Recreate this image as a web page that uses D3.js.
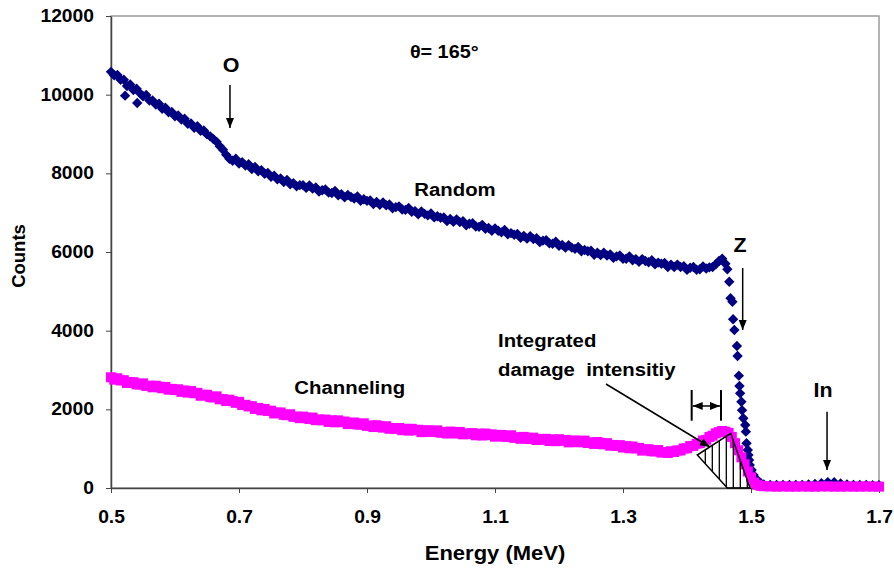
<!DOCTYPE html>
<html>
<head>
<meta charset="utf-8">
<script src="https://cdn.jsdelivr.net/npm/d3@7/dist/d3.min.js"></script>
<style>
	html, body { margin: 0; padding: 0; background: #fff; }
	svg text { font-family: Arial, "Liberation Sans", sans-serif; font-weight: bold; fill: #000; }
</style>
</head>
<body>
<div id="chart"></div>
<script>
/*
* RBS spectrum, random vs channeling
*/
// [energy MeV, counts]
var randomData = [
	[0.500,10580],[0.505,10490],[0.510,10500],[0.515,10380],[0.520,10380],[0.522,9975],[0.525,10220],[0.530,10260],
	[0.535,10120],[0.540,10150],[0.541,9790],[0.545,10040],[0.550,9960],[0.555,9990],[0.560,9850],[0.565,9850],
	[0.570,9750],[0.575,9770],[0.580,9640],[0.585,9670],[0.590,9550],[0.595,9560],[0.600,9450],[0.605,9470],
	[0.610,9370],[0.615,9390],[0.620,9260],[0.625,9270],[0.630,9160],[0.635,9200],[0.640,9080],[0.645,9090],
	[0.650,8990],[0.655,8940],[0.660,8870],[0.665,8800],[0.670,8690],[0.675,8600],[0.680,8470],[0.685,8370],
	[0.690,8320],[0.695,8370],[0.700,8250],[0.705,8280],[0.710,8200],[0.715,8230],[0.720,8110],[0.725,8160],
	[0.730,8050],[0.735,8080],[0.740,7990],[0.745,8010],[0.750,7910],[0.755,7940],[0.760,7850],[0.765,7870],
	[0.770,7780],[0.775,7830],[0.780,7720],[0.785,7750],[0.790,7670],[0.795,7700],[0.800,7700],[0.805,7630],
	[0.810,7690],[0.815,7610],[0.820,7640],[0.825,7540],[0.830,7570],[0.835,7590],[0.840,7510],[0.845,7500],
	[0.850,7550],[0.855,7440],[0.860,7470],[0.865,7390],[0.870,7450],[0.875,7400],[0.880,7360],[0.885,7410],
	[0.890,7300],[0.895,7340],[0.900,7300],[0.905,7310],[0.910,7220],[0.915,7270],[0.920,7200],[0.925,7260],
	[0.930,7190],[0.935,7210],[0.940,7110],[0.945,7140],[0.950,7160],[0.955,7080],[0.960,7070],[0.965,7120],
	[0.970,7020],[0.975,7040],[0.980,6960],[0.985,7030],[0.990,6970],[0.995,6930],[1.000,6980],[1.005,6880],
	[1.010,6910],[1.015,6870],[1.020,6880],[1.025,6790],[1.030,6840],[1.035,6770],[1.040,6830],[1.045,6760],
	[1.050,6780],[1.055,6680],[1.060,6720],[1.065,6730],[1.070,6650],[1.075,6640],[1.080,6690],[1.085,6590],
	[1.090,6610],[1.095,6540],[1.100,6600],[1.105,6540],[1.110,6500],[1.115,6560],[1.120,6450],[1.125,6480],
	[1.130,6440],[1.135,6460],[1.140,6360],[1.145,6410],[1.150,6340],[1.155,6400],[1.160,6330],[1.165,6350],
	[1.170,6250],[1.175,6290],[1.180,6300],[1.185,6220],[1.190,6210],[1.195,6260],[1.200,6160],[1.205,6180],
	[1.210,6110],[1.215,6170],[1.220,6110],[1.225,6080],[1.230,6130],[1.235,6020],[1.240,6050],[1.245,6020],
	[1.250,6030],[1.255,5930],[1.260,5980],[1.265,5920],[1.270,5980],[1.275,5910],[1.280,5940],[1.285,5850],
	[1.290,5890],[1.295,5910],[1.300,5830],[1.305,5830],[1.310,5890],[1.315,5790],[1.320,5820],[1.325,5750],
	[1.330,5820],[1.335,5770],[1.340,5740],[1.345,5790],[1.350,5690],[1.355,5730],[1.360,5700],[1.365,5720],
	[1.370,5620],[1.375,5680],[1.380,5620],[1.385,5680],[1.390,5620],[1.395,5640],[1.400,5550],[1.405,5600],
	[1.410,5620],[1.415,5550],[1.420,5560],[1.425,5630],[1.430,5580],[1.435,5610],[1.440,5620],[1.445,5690],
	[1.450,5770],[1.455,5830],[1.460,5700],[1.463,5560],[1.466,5245],[1.468,4823],[1.471,4737],[1.472,4289],
	[1.474,4017],[1.478,3610],[1.479,3356],[1.481,2856],[1.482,2593],[1.483,2406],[1.485,2194],[1.486,1975],
	[1.488,1772],[1.491,1602],[1.492,1432],[1.493,1137],[1.495,966],[1.496,839],[1.497,712],[1.498,585],
	[1.501,458],[1.504,330],[1.509,220],[1.515,130],[1.520,90],[1.530,80],[1.540,75],[1.550,80],
	[1.560,75],[1.570,80],[1.580,80],[1.590,90],[1.600,100],[1.610,125],[1.620,150],[1.630,145],
	[1.640,115],[1.650,90],[1.660,80],[1.670,75],[1.680,75],[1.690,70],[1.700,70]
];
var channelingData = [
	[0.500,2815],[0.505,2755],[0.510,2790],[0.515,2735],[0.520,2740],[0.525,2670],[0.530,2690],[0.535,2690],
	[0.540,2635],[0.545,2630],[0.550,2660],[0.555,2595],[0.560,2600],[0.565,2560],[0.570,2600],[0.575,2575],
	[0.580,2535],[0.585,2570],[0.590,2500],[0.595,2520],[0.600,2490],[0.605,2510],[0.610,2445],[0.615,2480],
	[0.620,2425],[0.625,2465],[0.630,2410],[0.635,2420],[0.640,2345],[0.645,2370],[0.650,2370],[0.655,2315],
	[0.660,2300],[0.665,2330],[0.670,2255],[0.675,2260],[0.680,2210],[0.685,2245],[0.690,2210],[0.695,2165],
	[0.700,2190],[0.705,2110],[0.710,2115],[0.715,2075],[0.720,2080],[0.725,2010],[0.730,2035],[0.735,1975],
	[0.740,2010],[0.745,1960],[0.750,1965],[0.755,1895],[0.760,1915],[0.765,1920],[0.770,1860],[0.775,1850],
	[0.780,1875],[0.785,1810],[0.790,1815],[0.795,1775],[0.800,1815],[0.805,1790],[0.810,1755],[0.815,1790],
	[0.820,1725],[0.825,1745],[0.830,1720],[0.835,1740],[0.840,1680],[0.845,1720],[0.850,1670],[0.855,1720],
	[0.860,1675],[0.865,1690],[0.870,1625],[0.875,1655],[0.880,1665],[0.885,1615],[0.890,1610],[0.895,1645],
	[0.900,1580],[0.905,1590],[0.910,1550],[0.915,1595],[0.920,1570],[0.925,1535],[0.930,1570],[0.935,1505],
	[0.940,1525],[0.945,1505],[0.950,1525],[0.955,1470],[0.960,1505],[0.965,1460],[0.970,1505],[0.975,1465],
	[0.980,1480],[0.985,1420],[0.990,1455],[0.995,1470],[1.000,1425],[1.005,1425],[1.010,1465],[1.015,1405],
	[1.020,1420],[1.025,1385],[1.030,1435],[1.035,1415],[1.040,1385],[1.045,1425],[1.050,1365],[1.055,1390],
	[1.060,1370],[1.065,1395],[1.070,1340],[1.075,1380],[1.080,1335],[1.085,1385],[1.090,1345],[1.095,1365],
	[1.100,1305],[1.105,1340],[1.110,1350],[1.115,1305],[1.120,1300],[1.125,1340],[1.130,1275],[1.135,1290],
	[1.140,1250],[1.145,1300],[1.150,1275],[1.155,1245],[1.160,1280],[1.165,1220],[1.170,1245],[1.175,1225],
	[1.180,1250],[1.185,1195],[1.190,1235],[1.195,1190],[1.200,1240],[1.205,1200],[1.210,1220],[1.215,1160],
	[1.220,1195],[1.225,1210],[1.230,1165],[1.235,1165],[1.240,1205],[1.245,1145],[1.250,1160],[1.255,1120],
	[1.260,1170],[1.265,1145],[1.270,1110],[1.275,1140],[1.280,1075],[1.285,1095],[1.290,1070],[1.295,1090],
	[1.300,1030],[1.305,1065],[1.310,1010],[1.315,1055],[1.320,1005],[1.325,1020],[1.330,950],[1.335,980],
	[1.340,985],[1.345,935],[1.350,930],[1.355,965],[1.360,900],[1.365,915],[1.370,890],[1.375,935],
	[1.380,915],[1.385,955],[1.390,955],[1.395,1005],[1.400,1010],[1.405,1065],[1.410,1070],[1.415,1125],
	[1.420,1140],[1.425,1205],[1.430,1225],[1.435,1295],[1.440,1330],[1.445,1390],[1.450,1420],[1.455,1450],
	[1.460,1430],[1.465,1400],[1.470,1300],[1.475,1140],[1.480,960],[1.485,780],[1.490,600],[1.495,420],
	[1.500,270],[1.505,140],[1.510,80],[1.515,55],[1.520,45],[1.530,40],[1.540,35],[1.550,40],
	[1.560,35],[1.570,35],[1.580,40],[1.590,35],[1.600,35],[1.610,40],[1.620,40],[1.630,35],
	[1.640,35],[1.650,40],[1.660,35],[1.670,35],[1.680,40],[1.690,35],[1.700,35]
];
var xTicks = [0.5, 0.7, 0.9, 1.1, 1.3, 1.5, 1.7];
var yTicks = [0, 2000, 4000, 6000, 8000, 10000, 12000];

// annotation shapes, in [energy, counts]
var damageArea = [[1.4161, 839], [1.4683, 1391], [1.4984, 0], [1.463, 0]];
var damagePointer = [[1.2734, 2644], [1.4359, 1042]];
var widthBars = [1.4073, 1.4531];
var edgeArrows = [
	{"label": "O", "e": 0.6859, "from": 10247, "to": 9153, "lx": 0.6875, "ly": 10755},
	{"label": "Z", "e": 1.487, "from": 5594, "to": 4017, "lx": 1.4828, "ly": 6178},
	{"label": "In", "e": 1.6188, "from": 1940, "to": 458, "lx": 1.6125, "ly": 2492}
];

;(function(d3){
	var width = 894,
		height = 568,
		margin = {top: 16, right: 15, bottom: 80, left: 111},
		stretch = 1.1;//the source picture is a little wider than tall

	var svg = d3.select("#chart").append("svg")
		.attr("width", width)
		.attr("height", height);

	var x = d3.scaleLinear().domain([0.5, 1.7]).range([margin.left, width - margin.right]),
		y = d3.scaleLinear().domain([0, 12000]).range([height - margin.bottom, margin.top]);

	function label(px, py, str, size, anchor){
		return svg.append("text")
			.attr("transform", "translate(" + px + "," + py + ") scale(" + stretch + ",1)")
			.attr("text-anchor", anchor || "start")
			.attr("font-size", size)
			.style("white-space", "pre")
			.text(str);
	}

	var defs = svg.append("defs");
	defs.append("marker").attr("id", "arrow")
		.attr("viewBox", "0 -5 10 10")
		.attr("refX", 10).attr("refY", 0)
		.attr("markerWidth", 10).attr("markerHeight", 10)
		.attr("markerUnits", "userSpaceOnUse")
		.attr("orient", "auto-start-reverse")
		.append("path").attr("d", "M0,-4L10,0L0,4Z").attr("fill", "#000");
	var area = d3.line().x(function(d){ return x(d[0]); }).y(function(d){ return y(d[1]); });
	defs.append("clipPath").attr("id", "damage-clip")
		.append("path").attr("d", area(damageArea) + "Z");

	// plot frame
	svg.append("rect")
		.attr("x", x(0.5)).attr("y", y(12000))
		.attr("width", x(1.7) - x(0.5)).attr("height", y(0) - y(12000))
		.attr("fill", "none").attr("stroke", "#9a9a9a").attr("stroke-width", 1.5);

	// axes
	var gy = svg.append("g").attr("transform", "translate(" + x(0.5) + ",0)")
		.call(d3.axisLeft(y).tickValues(yTicks).tickSize(5).tickSizeOuter(0).tickPadding(10.5).tickFormat(d3.format("d")));
	var gx = svg.append("g").attr("transform", "translate(0," + y(0) + ")")
		.call(d3.axisBottom(x).tickValues(xTicks).tickSize(5).tickSizeOuter(0).tickPadding(18).tickFormat(d3.format(".1f")));
	[gx, gy].forEach(function(g){
		g.select(".domain").attr("stroke", "#444").attr("stroke-width", 1.5);
		g.selectAll(".tick line").attr("stroke", "#444");
		g.selectAll(".tick text").attr("font-size", 17.5).attr("font-family", null)
			.attr("transform", "scale(" + stretch + ",1)");
	});

	svg.append("text")
		.attr("transform", "translate(25," + ((y(0) + y(12000)) / 2 + 4) + ") rotate(-90)")
		.attr("text-anchor", "middle").attr("font-size", 18.5)
		.text("Counts");
	label((x(0.5) + x(1.7)) / 2, 560, "Energy (MeV)", 20, "middle");

	// random, diamonds
	svg.append("g").selectAll("path").data(randomData).enter().append("path")
		.attr("transform", function(d){ return "translate(" + x(d[0]) + "," + y(d[1]) + ")"; })
		.attr("d", "M0,-5.2L5.2,0L0,5.2L-5.2,0Z")
		.attr("fill", "#000080");

	// channeling, squares
	svg.append("g").selectAll("rect").data(channelingData).enter().append("rect")
		.attr("x", function(d){ return x(d[0]) - 5; })
		.attr("y", function(d){ return y(d[1]) - 5; })
		.attr("width", 10).attr("height", 10)
		.attr("fill", "#ff00ff");

	// integrated damage area, hatched
	var hatch = svg.append("g").attr("clip-path", "url(#damage-clip)");
	var hx = d3.range(x(damageArea[0][0]) + 8, x(damageArea[2][0]), 7);
	hatch.selectAll("line").data(hx).enter().append("line")
		.attr("x1", function(d){ return d; }).attr("x2", function(d){ return d; })
		.attr("y1", y(1500)).attr("y2", y(0))
		.attr("stroke", "#000").attr("stroke-width", 1.3);
	svg.append("path")
		.attr("d", area(damageArea) + "Z")
		.attr("fill", "none").attr("stroke", "#000").attr("stroke-width", 1.5);

	svg.append("line")
		.attr("x1", x(damagePointer[0][0])).attr("y1", y(damagePointer[0][1]))
		.attr("x2", x(damagePointer[1][0])).attr("y2", y(damagePointer[1][1]))
		.attr("stroke", "#000").attr("stroke-width", 1.5)
		.attr("marker-end", "url(#arrow)");

	// width of damage peak
	widthBars.forEach(function(e){
		svg.append("line")
			.attr("x1", x(e)).attr("x2", x(e)).attr("y1", y(2492)).attr("y2", y(1711))
			.attr("stroke", "#000").attr("stroke-width", 2);
	});
	svg.append("line")
		.attr("x1", x(widthBars[0]) + 1).attr("x2", x(widthBars[1]) - 1)
		.attr("y1", y(2085)).attr("y2", y(2085))
		.attr("stroke", "#000").attr("stroke-width", 1.5)
		.attr("marker-start", "url(#arrow)").attr("marker-end", "url(#arrow)");

	// element edges
	edgeArrows.forEach(function(a){
		svg.append("line")
			.attr("x1", x(a.e)).attr("x2", x(a.e)).attr("y1", y(a.from)).attr("y2", y(a.to))
			.attr("stroke", "#000").attr("stroke-width", 1.5)
			.attr("marker-end", "url(#arrow)");
		label(x(a.lx), y(a.ly) + 7, a.label, 19.5, "middle");
	});

	label(x(0.967), y(10933), "θ= 165°", 18);
	label(x(1.0375), y(7424), "Random", 18.5, "middle");
	label(x(0.873), y(2390), "Channeling", 18.5, "middle");
	label(x(1.1047), y(3585), "Integrated", 18.5);
	label(x(1.1047), y(2848), "damage  intensitiy", 18.5);
})(d3);
</script>
</body>
</html>
